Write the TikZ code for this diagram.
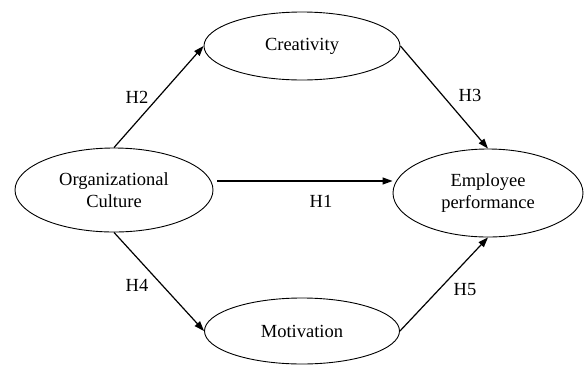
\documentclass[tikz,border=0pt]{standalone}
\usepackage{fontspec}
\setmainfont{Liberation Serif}
\newfontfamily\tnr{Liberation Serif}
\usetikzlibrary{shapes.geometric,arrows.meta}
\begin{document}
\begin{tikzpicture}[x=1pt,y=-1pt,
  oval/.style={draw, line width=0.9pt, ellipse, inner sep=0pt, align=center,
    font=\tnr\fontsize{18.5}{21.5}\selectfont},
  link/.style={draw, line width=1.2pt, -{Triangle[length=10pt,width=7pt]}},
  hlab/.style={font=\tnr\fontsize{18.5}{21.5}\selectfont, inner sep=0pt}]
\useasboundingbox (0,0) rectangle (584,365);
\node[oval, minimum width=198pt, minimum height=84pt] (org) at (114,190) {Organizational\\Culture};
\node[oval, minimum width=190pt, minimum height=88pt] (emp) at (488,193) {Employee\\performance};
\node[oval, minimum width=196pt, minimum height=68pt] (cre) at (302,46) {Creativity};
\node[oval, minimum width=195pt, minimum height=66pt] (mot) at (302,331) {Motivation};
\coordinate (h1s) at (217,181);
\draw[link] (org.north) -- (cre.west);
\draw[link] (cre.east) -- (emp.north);
\draw[link] (h1s) -- (h1s -| emp.west);
\draw[link] (org.south) -- (mot.west);
\draw[link] (mot.east) -- (emp.south);
\node[hlab] (l2) at (137,97) {H2};
\node[hlab] (l3) at (470,95) {H3};
\node[hlab] (l1) at (321,201) {H1};
\node[hlab] (l4) at (137,285) {H4};
\node[hlab] (l5) at (465,290) {H5};
\end{tikzpicture}
\end{document}
